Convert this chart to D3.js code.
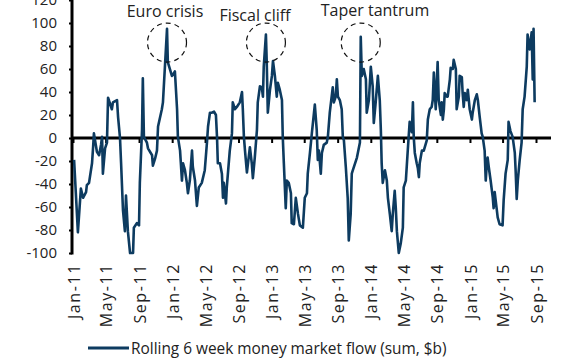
<!DOCTYPE html>
<html><head><meta charset="utf-8">
<script src="https://cdn.jsdelivr.net/npm/d3@7"></script>
<style>body{margin:0;background:#fff}svg{display:block}</style>
</head><body><svg id="c" width="579" height="360"></svg>
<script>
const dates = [
"2011-01-05","2011-01-19","2011-01-30","2011-02-07","2011-02-18","2011-02-21","2011-03-01","2011-03-12","2011-03-16","2011-03-19","2011-03-30","2011-04-07","2011-04-14","2011-04-18","2011-04-21","2011-04-29","2011-05-06","2011-05-10","2011-05-24","2011-05-28","2011-06-12","2011-06-16","2011-06-23","2011-06-27","2011-07-04","2011-07-11","2011-07-15","2011-07-22","2011-07-30","2011-08-10","2011-08-13","2011-08-24","2011-09-01","2011-09-04","2011-09-12","2011-09-15","2011-09-19","2011-09-30","2011-10-04","2011-10-19","2011-10-22","2011-10-30","2011-11-06","2011-11-10","2011-11-24","2011-11-28","2011-12-13","2011-12-16","2011-12-31",
"2012-01-04","2012-01-11","2012-01-19","2012-01-22","2012-01-30","2012-02-06","2012-02-10","2012-02-17","2012-02-24","2012-02-28","2012-03-06","2012-03-14","2012-03-17","2012-03-25","2012-04-01","2012-04-08","2012-04-19","2012-04-30","2012-05-08","2012-05-12","2012-05-19","2012-05-26","2012-06-03","2012-06-10","2012-06-14","2012-06-17","2012-06-25","2012-07-02","2012-07-06","2012-07-09","2012-07-17","2012-07-20","2012-07-31","2012-08-08","2012-08-11","2012-08-19","2012-08-26","2012-09-06","2012-09-14","2012-09-17","2012-09-21","2012-09-25","2012-10-02","2012-10-06","2012-10-13","2012-10-20","2012-10-24","2012-10-31","2012-11-08","2012-11-11","2012-11-19","2012-11-26","2012-11-30","2012-12-03","2012-12-11","2012-12-14","2012-12-18","2012-12-26",
"2013-01-02","2013-01-06","2013-01-13","2013-01-20","2013-01-24","2013-01-31","2013-02-08","2013-02-11","2013-02-15","2013-02-22","2013-02-26","2013-03-05","2013-03-13","2013-03-16","2013-03-24","2013-03-31","2013-04-08","2013-04-15","2013-04-26","2013-05-03","2013-05-11","2013-05-14","2013-05-22","2013-05-29","2013-06-09","2013-06-16","2013-06-20","2013-06-24","2013-07-01","2013-07-05","2013-07-12","2013-07-23","2013-07-27","2013-08-03","2013-08-14","2013-08-18","2013-08-25","2013-08-29","2013-09-02","2013-09-09","2013-09-16","2013-09-20","2013-09-24","2013-10-01","2013-10-08","2013-10-12","2013-10-19","2013-10-23","2013-10-27","2013-11-11","2013-11-22","2013-11-25","2013-11-29","2013-12-06","2013-12-14","2013-12-17","2013-12-25",
"2014-01-01","2014-01-08","2014-01-12","2014-01-19","2014-01-27","2014-02-03","2014-02-07","2014-02-10","2014-02-14","2014-02-22","2014-03-01","2014-03-05","2014-03-12","2014-03-19","2014-03-23","2014-03-30","2014-04-03","2014-04-07","2014-04-14","2014-04-21","2014-04-29","2014-05-02","2014-05-10","2014-05-17","2014-05-24","2014-06-01","2014-06-05","2014-06-08","2014-06-12","2014-06-19","2014-06-23","2014-06-27","2014-06-30","2014-07-08","2014-07-15","2014-07-26","2014-07-30","2014-08-06","2014-08-13","2014-08-17","2014-08-21","2014-08-28","2014-09-01","2014-09-04","2014-09-08","2014-09-16","2014-09-19","2014-09-23","2014-09-27","2014-09-30","2014-10-08","2014-10-11","2014-10-19","2014-10-22","2014-10-30","2014-11-02","2014-11-10","2014-11-13","2014-11-21","2014-11-24","2014-12-02","2014-12-05","2014-12-09","2014-12-13","2014-12-20","2014-12-24","2014-12-31",
"2015-01-08","2015-01-11","2015-01-19","2015-01-26","2015-01-30","2015-02-06","2015-02-13","2015-02-17","2015-02-24","2015-02-28","2015-03-04","2015-03-07","2015-03-11","2015-03-18","2015-03-26","2015-03-29","2015-04-02","2015-04-09","2015-04-13","2015-04-20","2015-05-01","2015-05-05","2015-05-12","2015-05-20","2015-05-23","2015-05-30","2015-06-07","2015-06-15","2015-06-18","2015-06-22","2015-06-26","2015-07-03","2015-07-10","2015-07-14","2015-07-21","2015-07-29","2015-08-01","2015-08-09","2015-08-16","2015-08-20","2015-08-23","2015-08-27"
];
const values = [
-19,-82,-44,-52,-47,-41,-39,-22,-8,4,-12,-15,-6,1,-31,-9,-4,35,25,31,33,18,0,-22,-63,-81,-50,-81,-100,-100,-78,-74,-76,-39,7,52,1,-4,-9,-15,-24,-18,-11,10,25,31,95,66,54,
55,58,25,1,-11,-37,-22,-28,-39,-48,-37,-11,-25,-37,-59,-43,-39,-28,-4,10,22,22,23,20,1,-22,-22,-31,-52,-39,-57,-43,-11,4,31,25,27,31,40,25,1,-11,-30,-22,-8,-22,-35,-17,7,31,45,44,36,62,90,66,22,42,
54,67,54,36,48,42,33,1,-22,-61,-37,-39,-48,-74,-75,-52,-66,-76,-78,-52,-48,-31,-13,4,29,7,-19,-11,-31,-13,-6,-4,1,22,44,31,36,51,36,33,25,1,-2,-25,-52,-89,-66,-31,-28,-17,-4,88,54,60,51,22,33,
62,45,13,31,54,33,7,-22,-39,-28,-37,-52,-66,-81,-66,-46,-61,-81,-100,-92,-78,-43,-37,-11,14,5,31,1,-13,-22,-26,-34,-22,-11,-11,-2,16,25,27,33,57,25,48,66,33,20,31,16,25,39,36,36,51,61,60,68,60,25,36,54,53,39,27,39,33,42,25,
16,22,33,38,33,18,4,1,-11,-37,-22,-17,-25,-37,-52,-61,-47,-61,-69,-75,-76,-54,-31,-19,14,6,1,-13,-28,-53,-37,-19,-4,25,36,62,90,77,92,51,95,31
];
const tickDates = ["2011-01-01","2011-05-01","2011-09-01","2012-01-01","2012-05-01","2012-09-01","2013-01-01","2013-05-01","2013-09-01","2014-01-01","2014-05-01","2014-09-01","2015-01-01","2015-05-01","2015-09-01"];
const tickLabels = ["Jan-11","May-11","Sep-11","Jan-12","May-12","Sep-12","Jan-13","May-13","Sep-13","Jan-14","May-14","Sep-14","Jan-15","May-15","Sep-15"];
const yTicks = [120,100,80,60,40,20,0,-20,-40,-60,-80,-100];
const annotationLabels = ["Euro crisis","Fiscal cliff","Taper tantrum"];
const annotationDates = ["2011-12-13","2012-12-11","2013-11-25"];
const seriesName = "Rolling 6 week money market flow (sum, $b)";

const parse = d3.timeParse("%Y-%m-%d");
const data = dates.map((d,i)=>({date:parse(d), value:values[i]}));
const svg = d3.select("#c");
const font = "'Open Sans', sans-serif";
const navy = "#0d3b60";

const x = d3.scaleTime().domain([parse("2011-01-01"), parse("2015-09-01")]).range([73, 536]);
const y = d3.scaleLinear().domain([-100, 120]).range([253, 0]);

// y axis
const yAxis = svg.append("g").attr("transform","translate(72,0)")
  .call(d3.axisLeft(y).tickValues(yTicks).tickSize(3).tickPadding(12).tickFormat(d=>d));
yAxis.select(".domain").remove();
yAxis.selectAll("line").attr("stroke","#000").attr("stroke-width",2);
yAxis.selectAll("text").attr("font-family",font).attr("font-size",15).attr("fill","#222");
svg.append("line").attr("x1",72).attr("x2",72).attr("y1",0).attr("y2",y(-100)+1.5)
  .attr("stroke","#000").attr("stroke-width",3);

// x axis along zero
const xAxis = svg.append("g").attr("transform",`translate(0,${y(0)})`)
  .call(d3.axisBottom(x).tickValues(tickDates.map(parse)).tickSize(5).tickFormat(""));
xAxis.select(".domain").remove();
xAxis.selectAll("line").attr("stroke","#000").attr("stroke-width",2);
svg.append("line").attr("x1",71).attr("x2",551).attr("y1",y(0)).attr("y2",y(0))
  .attr("stroke","#000").attr("stroke-width",3);

// x labels
svg.append("g").selectAll("text").data(tickDates).join("text")
  .attr("transform",(d)=>`translate(${x(parse(d))+1},263) rotate(-90)`)
  .attr("text-anchor","end").attr("dy","0.35em")
  .attr("font-family",font).attr("font-size",16).attr("letter-spacing",1.6).attr("fill","#222")
  .text((d,i)=>tickLabels[i]);

// line
const line = d3.line().x(d=>x(d.date)).y(d=>y(Math.max(-100,d.value)));
svg.append("path").datum(data).attr("d",line).attr("fill","none")
  .attr("stroke",navy).attr("stroke-width",2.6).attr("stroke-linejoin","round");

// annotations
const annX = [165,255,375], annY=[17,21,16];
annotationDates.forEach((d,i)=>{
  const cx = x(parse(d)), cy = y(83);
  svg.append("circle").attr("cx",cx).attr("cy",cy).attr("r",19.5)
    .attr("fill","none").attr("stroke","#111").attr("stroke-width",1.2).attr("stroke-dasharray","5,4");
  svg.append("text").attr("x",annX[i]).attr("y",annY[i]).attr("text-anchor","middle")
    .attr("font-family",font).attr("font-size",16).attr("fill","#222").text(annotationLabels[i]);
});

// legend
svg.append("line").attr("x1",88).attr("x2",129).attr("y1",348).attr("y2",348)
  .attr("stroke",navy).attr("stroke-width",3);
svg.append("text").attr("x",131).attr("y",354).attr("font-family",font).attr("font-size",15.4)
  .attr("fill","#222").text(seriesName);
</script></body></html>
